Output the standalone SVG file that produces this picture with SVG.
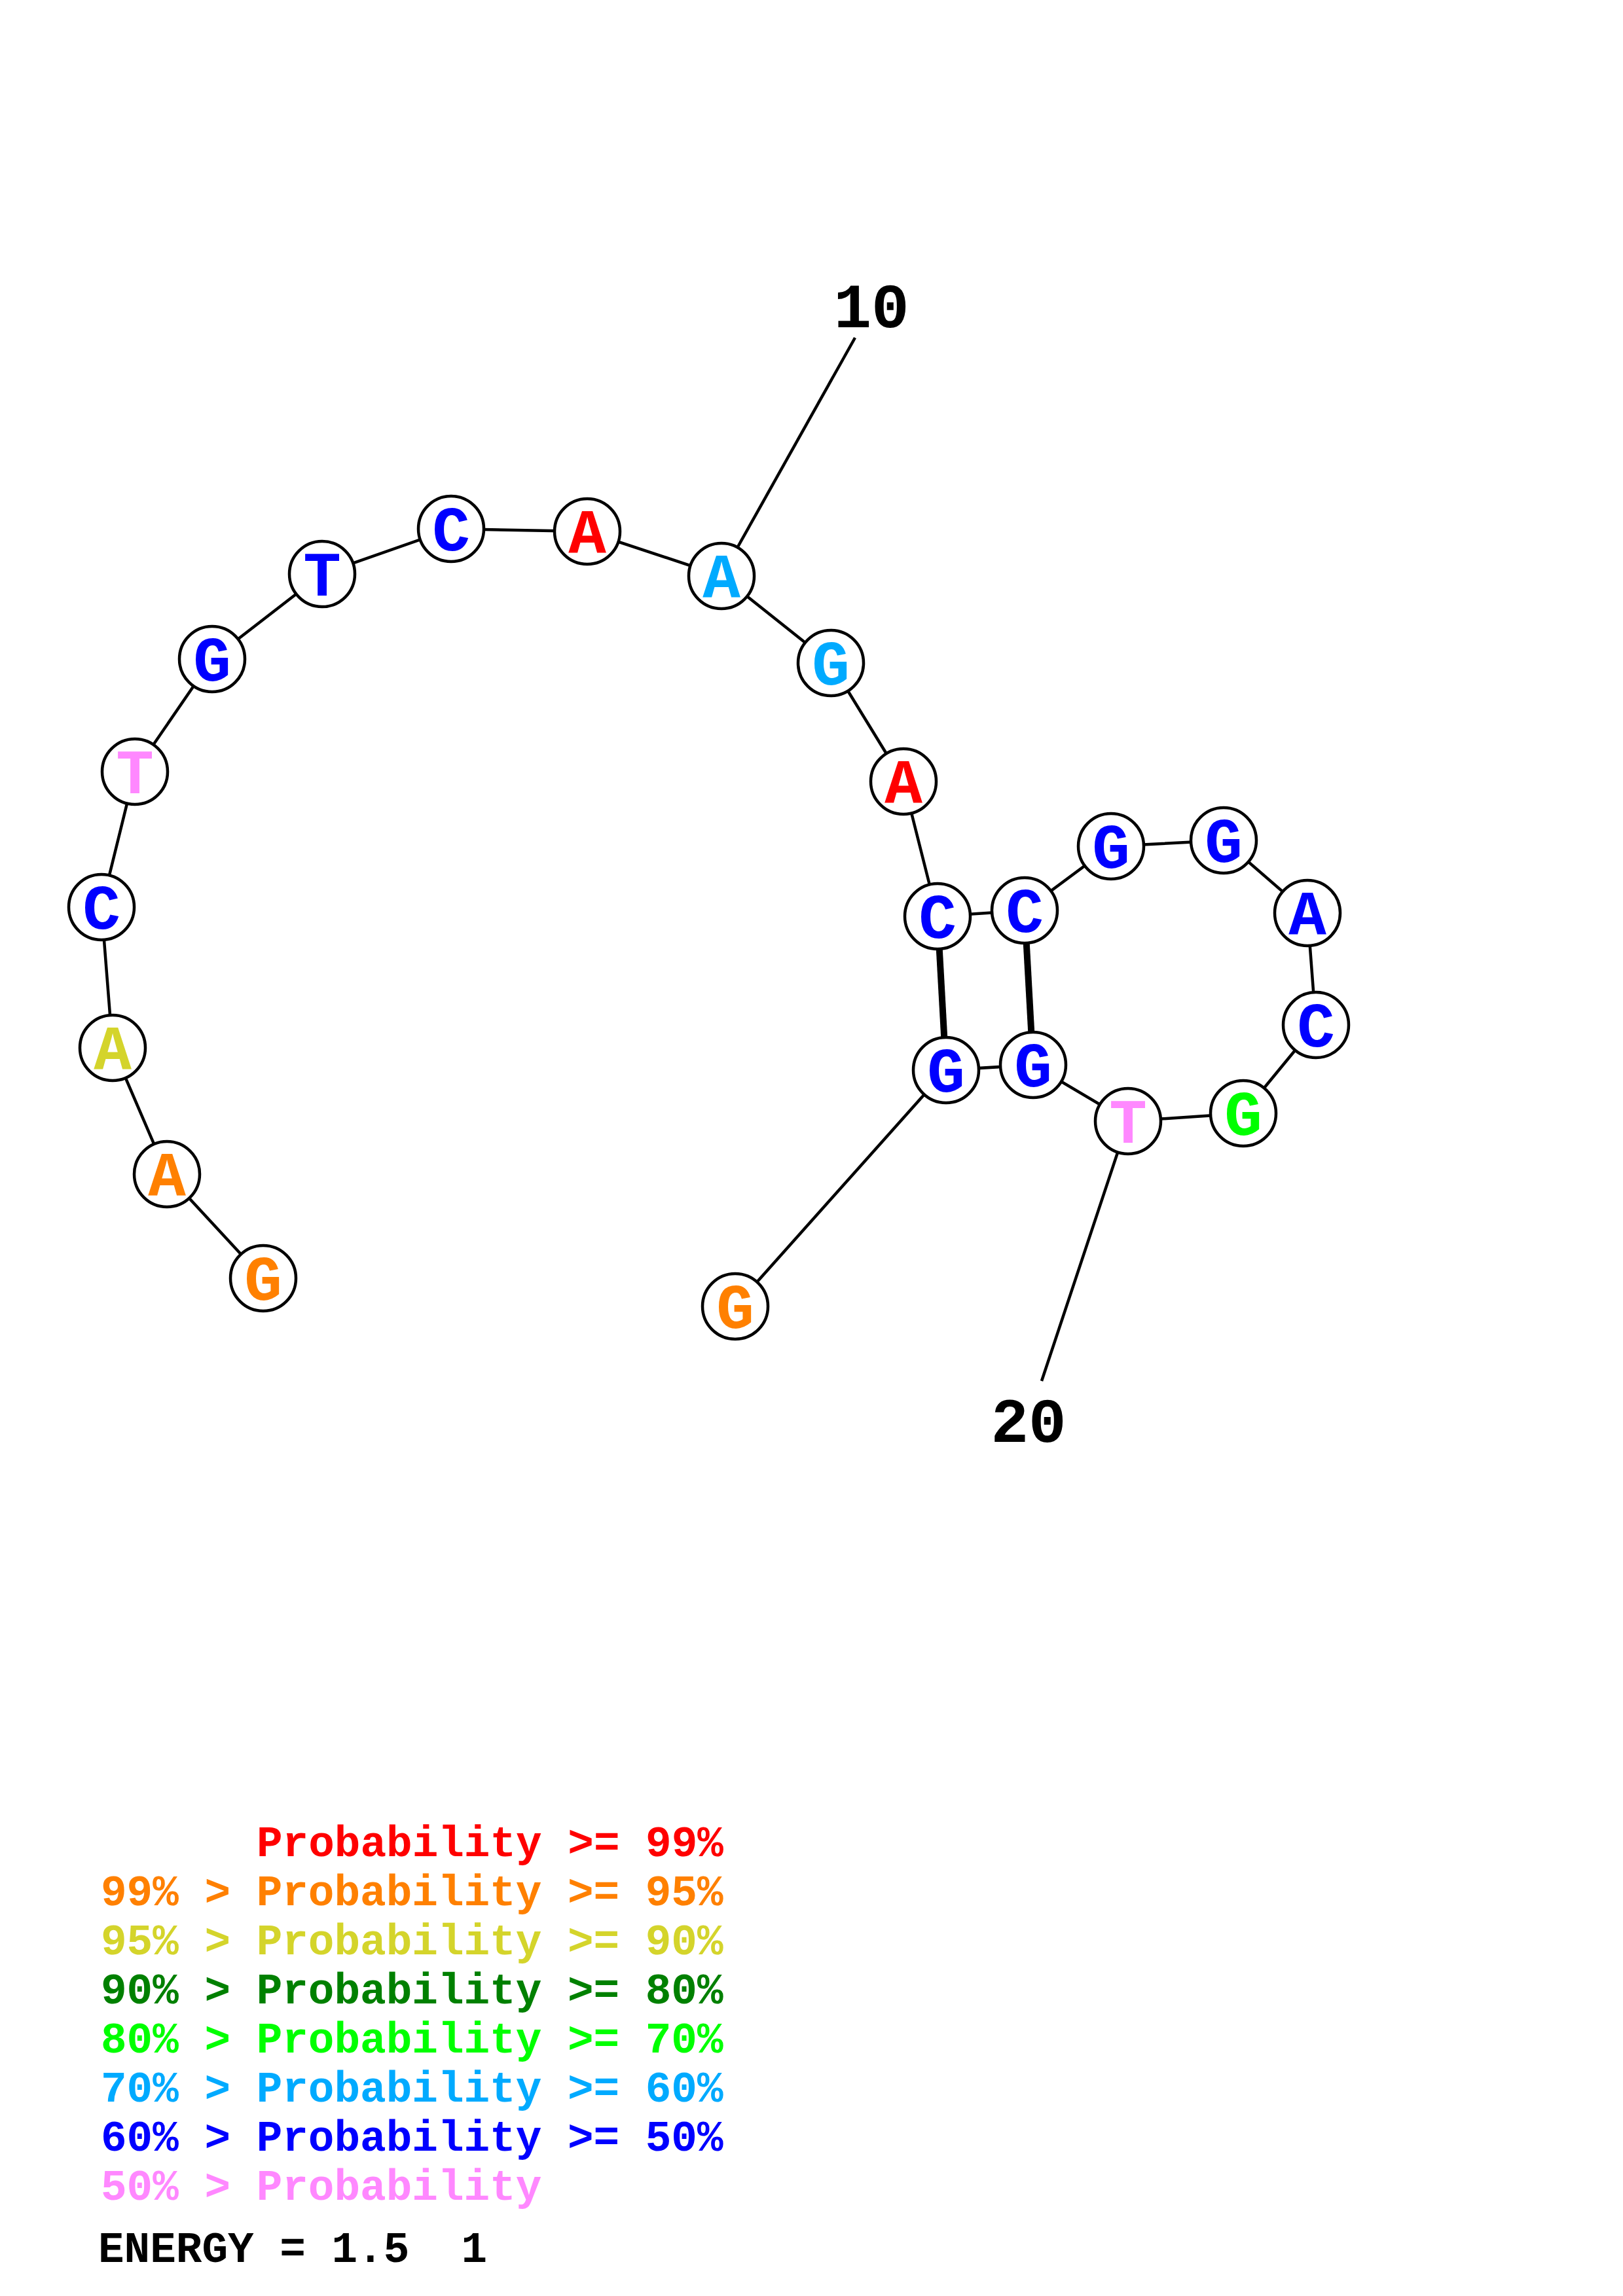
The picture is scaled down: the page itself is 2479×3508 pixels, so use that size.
<svg xmlns="http://www.w3.org/2000/svg" width="2479" height="3508" viewBox="0 0 2479 3508">
<style>
.bb{stroke:#000;stroke-width:4.5;fill:none}
.bp{stroke:#000;stroke-width:10;fill:none}
.n circle{fill:#fff;stroke:#000;stroke-width:4.5}
.n text{font-family:"Liberation Mono","Courier New",monospace;font-weight:bold;font-size:96px;text-anchor:middle}
.lbl{font-family:"Liberation Mono","Courier New",monospace;font-weight:bold;font-size:96px;fill:#000;text-anchor:middle}
.lg{font-family:"Liberation Mono","Courier New",monospace;font-weight:bold;font-size:66px}
.c1{fill:#ff0000}.c2{fill:#ff8000}.c3{fill:#d4d42b}.c4{fill:#008000}.c5{fill:#00ff00}.c6{fill:#00aaff}.c7{fill:#0000ff}.c8{fill:#ff88ff}
</style>
<rect width="2479" height="3508" fill="#fff"/>
<g id="connectors">
<polyline class="bb" points="402,1953 255,1794 172,1601 155,1386 206,1179 324,1007 492,877 689,808 897,812 1102,880 1269,1013 1380,1194 1432,1400 1565,1391 1697,1293 1869,1284 1997,1395 2010,1566 1899,1701 1723,1713 1578,1627 1445,1635 1123,1996"/>
<line class="bp" x1="1432" y1="1400" x2="1445" y2="1635"/>
<line class="bp" x1="1565" y1="1391" x2="1578" y2="1627"/>
<line class="bb" x1="1306" y1="516" x2="1102" y2="880"/>
<line class="bb" x1="1591" y1="2110" x2="1723" y2="1713"/>
</g>
<g id="labels">
<text class="lbl" x="1331" y="500">10</text>
<text class="lbl" x="1571" y="2203">20</text>
</g>
<g id="n1" class="n"><circle cx="402" cy="1953" r="50"/><text class="c2" x="402" y="1986">G</text></g>
<g id="n2" class="n"><circle cx="255" cy="1794" r="50"/><text class="c2" x="255" y="1827">A</text></g>
<g id="n3" class="n"><circle cx="172" cy="1601" r="50"/><text class="c3" x="172" y="1634">A</text></g>
<g id="n4" class="n"><circle cx="155" cy="1386" r="50"/><text class="c7" x="155" y="1419">C</text></g>
<g id="n5" class="n"><circle cx="206" cy="1179" r="50"/><text class="c8" x="206" y="1212">T</text></g>
<g id="n6" class="n"><circle cx="324" cy="1007" r="50"/><text class="c7" x="324" y="1040">G</text></g>
<g id="n7" class="n"><circle cx="492" cy="877" r="50"/><text class="c7" x="492" y="910">T</text></g>
<g id="n8" class="n"><circle cx="689" cy="808" r="50"/><text class="c7" x="689" y="841">C</text></g>
<g id="n9" class="n"><circle cx="897" cy="812" r="50"/><text class="c1" x="897" y="845">A</text></g>
<g id="n10" class="n"><circle cx="1102" cy="880" r="50"/><text class="c6" x="1102" y="913">A</text></g>
<g id="n11" class="n"><circle cx="1269" cy="1013" r="50"/><text class="c6" x="1269" y="1046">G</text></g>
<g id="n12" class="n"><circle cx="1380" cy="1194" r="50"/><text class="c1" x="1380" y="1227">A</text></g>
<g id="n13" class="n"><circle cx="1432" cy="1400" r="50"/><text class="c7" x="1432" y="1433">C</text></g>
<g id="n14" class="n"><circle cx="1565" cy="1391" r="50"/><text class="c7" x="1565" y="1424">C</text></g>
<g id="n15" class="n"><circle cx="1697" cy="1293" r="50"/><text class="c7" x="1697" y="1326">G</text></g>
<g id="n16" class="n"><circle cx="1869" cy="1284" r="50"/><text class="c7" x="1869" y="1317">G</text></g>
<g id="n17" class="n"><circle cx="1997" cy="1395" r="50"/><text class="c7" x="1997" y="1428">A</text></g>
<g id="n18" class="n"><circle cx="2010" cy="1566" r="50"/><text class="c7" x="2010" y="1599">C</text></g>
<g id="n19" class="n"><circle cx="1899" cy="1701" r="50"/><text class="c5" x="1899" y="1734">G</text></g>
<g id="n20" class="n"><circle cx="1723" cy="1713" r="50"/><text class="c8" x="1723" y="1746">T</text></g>
<g id="n21" class="n"><circle cx="1578" cy="1627" r="50"/><text class="c7" x="1578" y="1660">G</text></g>
<g id="n22" class="n"><circle cx="1445" cy="1635" r="50"/><text class="c7" x="1445" y="1668">G</text></g>
<g id="n23" class="n"><circle cx="1123" cy="1996" r="50"/><text class="c2" x="1123" y="2029">G</text></g>
<g id="legend" class="lg">
<text class="c1" x="392" y="2836">Probability &gt;= 99%</text>
<text class="c2" x="154" y="2911">99% &gt; Probability &gt;= 95%</text>
<text class="c3" x="154" y="2986">95% &gt; Probability &gt;= 90%</text>
<text class="c4" x="154" y="3061">90% &gt; Probability &gt;= 80%</text>
<text class="c5" x="154" y="3136">80% &gt; Probability &gt;= 70%</text>
<text class="c6" x="154" y="3211">70% &gt; Probability &gt;= 60%</text>
<text class="c7" x="154" y="3286">60% &gt; Probability &gt;= 50%</text>
<text class="c8" x="154" y="3361">50% &gt; Probability</text>
<text x="150" y="3456" fill="#000" xml:space="preserve">ENERGY = 1.5  1</text>
</g>
</svg>
